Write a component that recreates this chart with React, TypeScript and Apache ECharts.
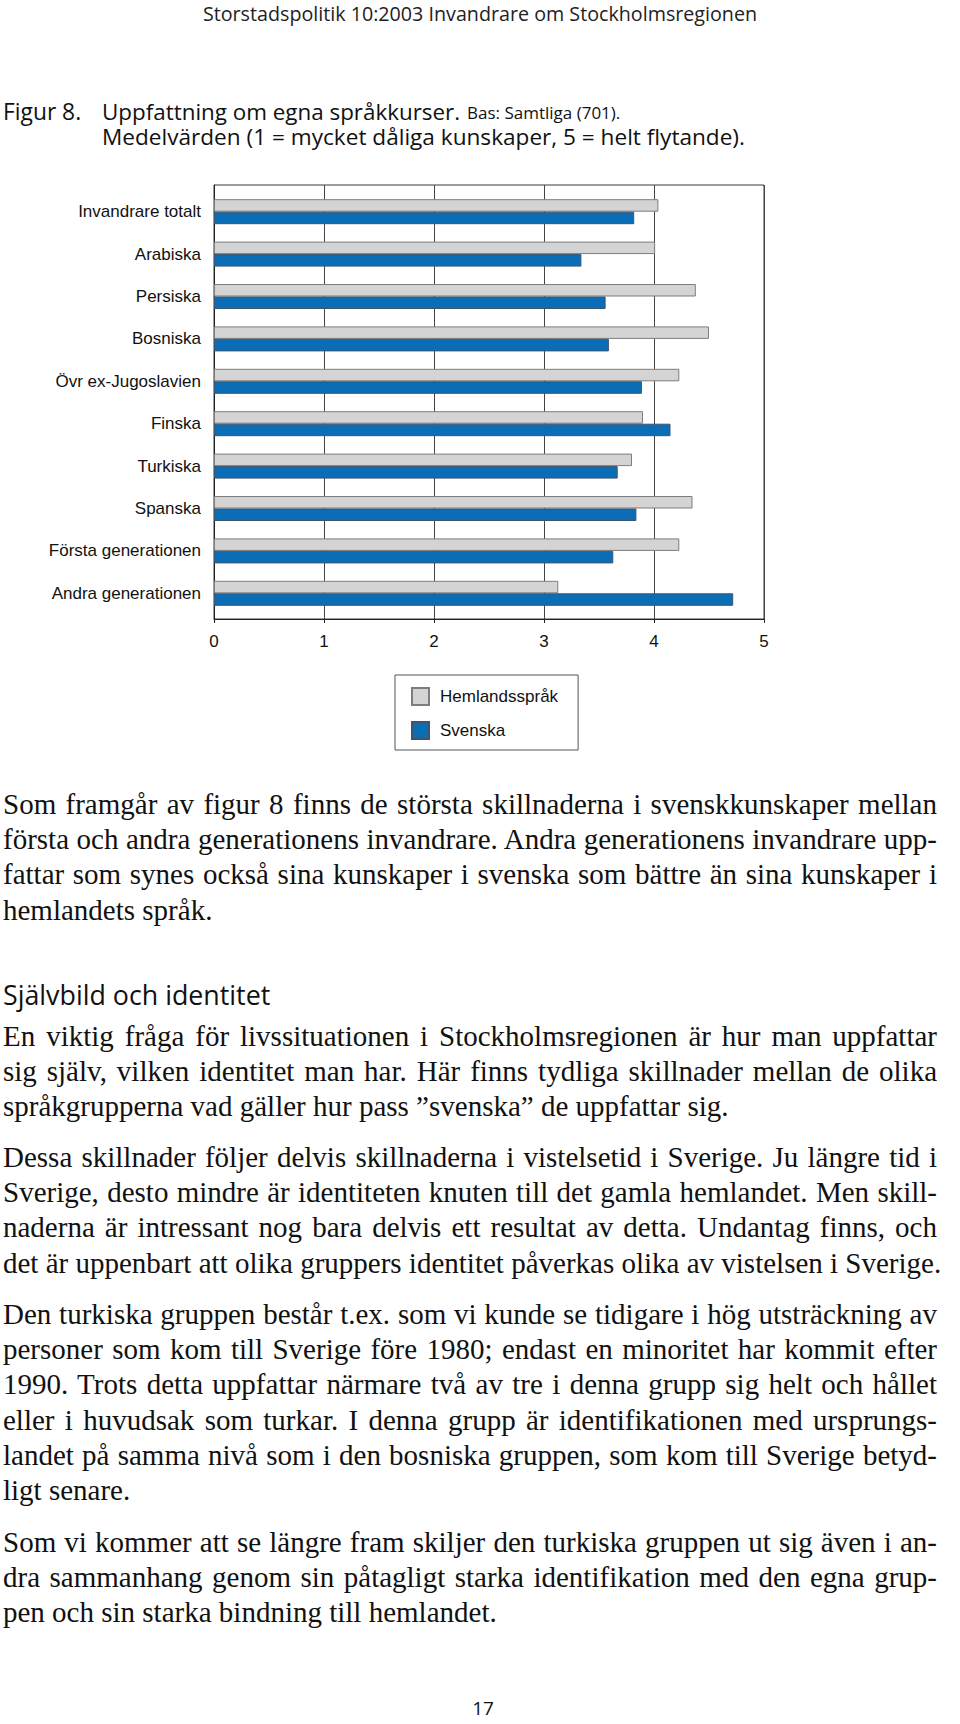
import React, { useEffect, useRef } from "react";
import * as echarts from "echarts";

// ---------- data ----------
const categories = [
  "Invandrare totalt",
  "Arabiska",
  "Persiska",
  "Bosniska",
  "Övr ex-Jugoslavien",
  "Finska",
  "Turkiska",
  "Spanska",
  "Första generationen",
  "Andra generationen",
];
const seriesNames = ["Hemlandsspråk", "Svenska"];
const hemlandssprak = [4.04, 4.01, 4.38, 4.5, 4.23, 3.9, 3.8, 4.35, 4.23, 3.13];
const svenska = [3.82, 3.34, 3.56, 3.59, 3.89, 4.15, 3.67, 3.84, 3.63, 4.72];
const xTicks = [0, 1, 2, 3, 4, 5];

const pageHeader = "Storstadspolitik 10:2003 Invandrare om Stockholmsregionen";
const figLabel = "Figur 8.";
const figTitle = "Uppfattning om egna språkkurser.";
const figBase = "Bas: Samtliga (701).";
const figSub = "Medelvärden (1 = mycket dåliga kunskaper, 5 = helt flytande).";

const para1 = [
  "Som framgår av figur 8 finns de största skillnaderna i svenskkunskaper mellan",
  "första och andra generationens invandrare. Andra generationens invandrare upp-",
  "fattar som synes också sina kunskaper i svenska som bättre än sina kunskaper i",
  "hemlandets språk.",
];
const heading = "Självbild och identitet";
const para2 = [
  "En viktig fråga för livssituationen i Stockholmsregionen är hur man uppfattar",
  "sig själv, vilken identitet man har. Här finns tydliga skillnader mellan de olika",
  "språkgrupperna vad gäller hur pass ”svenska” de uppfattar sig.",
];
const para3 = [
  "Dessa skillnader följer delvis skillnaderna i vistelsetid i Sverige. Ju längre tid i",
  "Sverige, desto mindre är identiteten knuten till det gamla hemlandet. Men skill-",
  "naderna är intressant nog bara delvis ett resultat av detta. Undantag finns, och",
  "det är uppenbart att olika gruppers identitet påverkas olika av vistelsen i Sverige.",
];
const para4 = [
  "Den turkiska gruppen består t.ex. som vi kunde se tidigare i hög utsträckning av",
  "personer som kom till Sverige före 1980; endast en minoritet har kommit efter",
  "1990. Trots detta uppfattar närmare två av tre i denna grupp sig helt och hållet",
  "eller i huvudsak som turkar. I denna grupp är identifikationen med ursprungs-",
  "landet på samma nivå som i den bosniska gruppen, som kom till Sverige betyd-",
  "ligt senare.",
];
const para5 = [
  "Som vi kommer att se längre fram skiljer den turkiska gruppen ut sig även i an-",
  "dra sammanhang genom sin påtagligt starka identifikation med den egna grup-",
  "pen och sin starka bindning till hemlandet.",
];
const pageNumber = "17";

// ---------- layout ----------
const LINE = 35.2;
const blocks = [
  { lines: para1, y: 806 },
  { lines: para2, y: 1038 },
  { lines: para3, y: 1159 },
  { lines: para4, y: 1316 },
  { lines: para5, y: 1544 },
];

const SANS = '"Open Sans", "Noto Sans", sans-serif';
const ARIAL = '"Liberation Sans", Arial, sans-serif';
const SERIF = '"Liberation Serif", "Times New Roman", serif';

function Chart() {
  const ref = useRef<HTMLDivElement>(null);
  useEffect(() => {
    if (!ref.current) return;
    const chart = echarts.init(ref.current, undefined, { renderer: "svg" });
    const xMin = xTicks[0];
    const xMax = xTicks[xTicks.length - 1];
    const xInt = xTicks[1] - xTicks[0];
    const capText = (text: string, x: number, y: number, size: number) => ({
      type: "text",
      x,
      y,
      style: {
        text,
        fill: "#111",
        fontSize: size,
        lineHeight: 22,
        fontFamily: SANS,
        align: "left",
        verticalAlign: "middle",
      },
    });
    chart.setOption({
      animation: false,
      backgroundColor: "#ffffff",
      textStyle: { fontFamily: ARIAL },
      grid: [
        {
          left: 214,
          top: 185,
          width: 550,
          height: 434,
          show: true,
          borderColor: "#3a3a3a",
          borderWidth: 1,
          backgroundColor: "transparent",
        },
        { left: 214, top: 190.5, width: 550, height: 424 },
      ],
      xAxis: [
        {
          gridIndex: 0,
          type: "value",
          min: xMin,
          max: xMax,
          interval: xInt,
          axisLine: { show: true, lineStyle: { color: "#222", width: 1 } },
          axisTick: { show: true, length: 4, lineStyle: { color: "#222" } },
          splitLine: { show: true, lineStyle: { color: "#444", width: 1 } },
          axisLabel: {
            fontSize: 17,
            color: "#111",
            margin: 14,
            fontFamily: ARIAL,
          },
        },
        { gridIndex: 1, type: "value", min: xMin, max: xMax, show: false },
      ],
      yAxis: [
        {
          gridIndex: 0,
          type: "category",
          data: categories,
          axisLine: { show: true, lineStyle: { color: "#222" } },
          axisTick: { show: false },
          axisLabel: { show: false },
          splitLine: { show: false },
        },
        {
          gridIndex: 1,
          type: "category",
          data: categories,
          inverse: true,
          axisLine: { show: false },
          axisTick: { show: false },
          splitLine: { show: false },
          axisLabel: { fontSize: 17, color: "#111", margin: 13, fontFamily: ARIAL },
        },
      ],
      legend: {
        data: seriesNames,
        orient: "vertical",
        left: 395,
        top: 675,
        padding: [12, 20, 10, 16],
        itemWidth: 17,
        itemHeight: 17,
        itemGap: 15,
        borderColor: "#555",
        borderWidth: 1,
        icon: "rect",
        selectedMode: false,
        textStyle: { fontSize: 17, color: "#111", fontFamily: ARIAL, padding: [0, 0, 0, 6] },
      },
      series: [
        {
          name: seriesNames[0],
          type: "bar",
          xAxisIndex: 1,
          yAxisIndex: 1,
          data: hemlandssprak,
          barWidth: 12.5,
          barGap: "0%",
          itemStyle: { color: "#d4d4d4", borderColor: "#7d7d7d", borderWidth: 1 },
        },
        {
          name: seriesNames[1],
          type: "bar",
          xAxisIndex: 1,
          yAxisIndex: 1,
          data: svenska,
          barWidth: 12.5,
          barGap: "0%",
          itemStyle: { color: "#0b6db6", borderColor: "#3b5670", borderWidth: 1 },
        },
      ],
      graphic: [
        {
          type: "text",
          x: 480,
          y: 13,
          style: {
            text: pageHeader,
            fill: "#222",
            fontSize: 19.7,
            fontFamily: SANS,
            align: "center",
            verticalAlign: "middle",
          },
        },
        capText(figLabel, 3, 111, 22.8),
        capText(figTitle, 102, 111, 22.4),
        capText(figBase, 467, 112.5, 17),
        capText(figSub, 102, 136, 22.6),
      ],
    });
    return () => chart.dispose();
  }, []);
  return (
    <div
      ref={ref}
      style={{ position: "absolute", left: 0, top: 0, width: 960, height: 780 }}
    />
  );
}

function Line({ text, cy, justify }: { text: string; cy: number; justify: boolean }) {
  return (
    <div
      style={{
        position: "absolute",
        left: 3,
        top: cy - 19,
        width: 934,
        height: 35,
        lineHeight: "35px",
        fontSize: 29,
        fontFamily: SERIF,
        color: "#111",
        whiteSpace: "nowrap",
        textAlign: justify ? "justify" : "left",
        textAlignLast: justify ? "justify" : "left",
      } as React.CSSProperties}
    >
      {text}
    </div>
  );
}

export default function App() {
  return (
    <div
      style={{
        position: "absolute",
        left: 0,
        top: 0,
        width: 960,
        height: 1724,
        background: "#fff",
        overflow: "hidden",
      }}
    >
      <Chart />
      {blocks.map((b, bi) =>
        b.lines.map((t, i) => (
          <Line
            key={bi + "-" + i}
            text={t}
            cy={b.y + i * LINE}
            justify={i < b.lines.length - 1}
          />
        ))
      )}
      <div
        style={{
          position: "absolute",
          left: 3,
          top: 995 - 19,
          height: 38,
          lineHeight: "38px",
          fontSize: 26.8,
          fontFamily: SANS,
          color: "#111",
          whiteSpace: "nowrap",
        }}
      >
        {heading}
      </div>
      <div
        style={{
          position: "absolute",
          left: 0,
          width: 966,
          top: 1699,
          height: 19,
          lineHeight: "19px",
          fontSize: 19,
          fontFamily: SANS,
          color: "#111",
          textAlign: "center",
        }}
      >
        {pageNumber}
      </div>
    </div>
  );
}
